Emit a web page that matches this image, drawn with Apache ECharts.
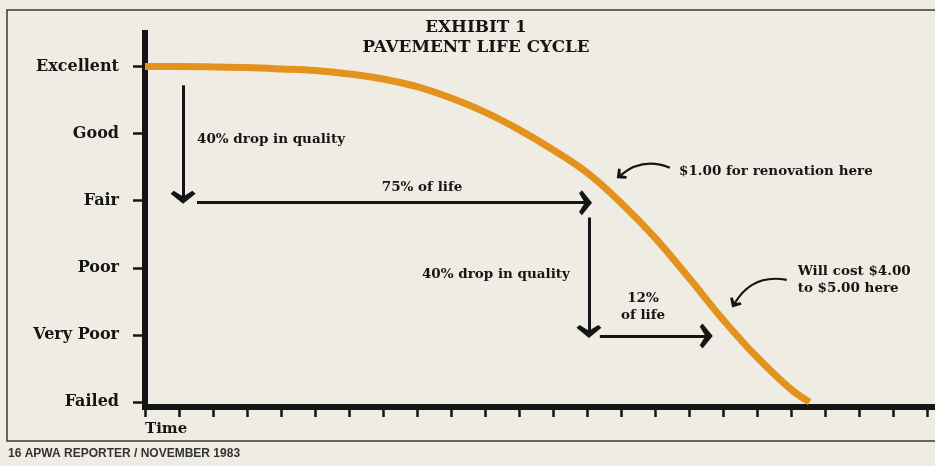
<!DOCTYPE html>
<html>
<head>
<meta charset="utf-8">
<script src="https://cdn.jsdelivr.net/npm/echarts@6/dist/echarts.min.js"></script>
<style>
html,body{margin:0;padding:0;background:#efece3;}
#chart{width:935px;height:466px;}
</style>
</head>
<body>
<div id="chart"></div>
<script>
// ---- data ----
const qualityLevels = ['Failed', 'Very Poor', 'Poor', 'Fair', 'Good', 'Excellent'];
const levelValues = [0, 1, 2, 3, 4, 5];
const timeTicks = [0,1,2,3,4,5,6,7,8,9,10,11,12,13,14,15,16,17,18,19,20,21,22,23];
const timeLabel = 'Time';

const curveTime    = [0, 1, 2, 3, 4, 5, 6, 7, 8, 9, 10, 11, 12, 13, 14, 15, 16, 17, 18, 19, 19.55];
const curveQuality = [5, 5, 4.995, 4.985, 4.965, 4.94, 4.89, 4.815, 4.70, 4.53, 4.32, 4.06, 3.76, 3.42, 2.97, 2.45, 1.85, 1.23, 0.67, 0.19, 0];

// straight annotation arrows (data coordinates)
const arrowFrom  = [[1.12, 4.72], [1.53, 2.97], [13.06, 2.75], [13.38, 0.985]];
const arrowTo    = [[1.12, 3.05], [12.96, 2.97], [13.06, 1.05], [16.51, 0.985]];
// curved pointer arrows (data coordinates)
const pointerFrom = [[15.44, 3.49], [18.88, 1.82]];
const pointerTo   = [[13.98, 3.376], [17.34, 1.466]];
const pointerBend = [-0.3, -0.35];

// annotation texts (data coordinates)
const noteTexts  = ['40% drop in quality', '75% of life', '$1.00 for renovation here', '40% drop in quality', '12%\nof life', 'Will cost $4.00\nto $5.00 here'];
const noteCoords = [[1.53, 3.91], [8.15, 3.19], [15.71, 3.43], [12.5, 1.90], [14.65, 1.42], [19.2, 1.82]];
const noteAlign  = ['left', 'center', 'left', 'right', 'center', 'left'];

const titleText = 'EXHIBIT 1\nPAVEMENT LIFE CYCLE';
const footerNum = '16';
const footerText = ' APWA REPORTER / NOVEMBER 1983';

// ---- chart ----
const SERIF = '"DejaVu Serif", serif';
const ORANGE = '#e3921e';
const INK = '#151515';
const chevron = 'path://M0,9 L10,0 L20,9 L17.5,11.5 L10,6.5 L2.5,11.5 Z';

const chart = echarts.init(document.getElementById('chart'), null, {renderer: 'canvas'});

const markLineData = arrowFrom.map((f, i) => [
  {coord: f, symbol: 'none'},
  {coord: arrowTo[i], symbol: chevron, symbolSize: [25, 13],
   lineStyle: {width: 3, color: INK, type: 'solid'}}
]);

const markPointData = noteTexts.map((t, i) => ({
  name: t, coord: noteCoords[i], symbol: 'circle', symbolSize: 0,
  label: {show: true, position: 'inside', formatter: '{b}', align: noteAlign[i], verticalAlign: 'middle',
          color: INK, fontFamily: SERIF, fontWeight: 'bold', fontSize: 13.5, lineHeight: 17}
}));

chart.setOption({
  backgroundColor: '#efece3',
  animation: false,
  title: [
    {text: titleText, left: 471, top: 13, textAlign: 'center',
     textStyle: {fontFamily: SERIF, fontWeight: 'bold', fontSize: 16.8, lineHeight: 20, color: INK}},
    {text: '{b|' + footerNum + '}{n|' + footerText + '}', left: 3, top: 443,
     textStyle: {rich: {
       b: {fontFamily: '"Liberation Sans", Arial, sans-serif', fontWeight: 'bold', fontSize: 12, color: '#333'},
       n: {fontFamily: '"Liberation Sans", Arial, sans-serif', fontSize: 12, color: '#333'}
     }}}
  ],
  graphic: [
    {type: 'rect', z: -1, shape: {x: 7, y: 10, width: 940, height: 431},
     style: {fill: 'none', stroke: '#3a3a3a', lineWidth: 1.5}}
  ],
  grid: {left: 145, right: 0, top: 33, bottom: 59, containLabel: false},
  xAxis: {
    type: 'value', min: 0, max: 23.24,
    axisLine: {onZero: false, lineStyle: {color: INK, width: 6}},
    axisTick: {show: true, length: 10, customValues: timeTicks, lineStyle: {color: INK, width: 2.5}},
    axisLabel: {show: true, customValues: [0], formatter: () => timeLabel, margin: 15, align: 'left',
                fontFamily: SERIF, fontWeight: 'bold', fontSize: 15, color: INK},
    splitLine: {show: false}
  },
  yAxis: {
    type: 'value', min: -0.075, max: 5.5,
    axisLine: {show: true, lineStyle: {color: INK, width: 6, cap: 'square'}},
    axisTick: {show: true, length: 12, customValues: levelValues, lineStyle: {color: INK, width: 2.5}},
    axisLabel: {show: true, customValues: levelValues, formatter: v => qualityLevels[Math.round(v)], margin: 26,
                fontFamily: SERIF, fontWeight: 'bold', fontSize: 16, color: INK},
    splitLine: {show: false}
  },
  series: [{
    type: 'line',
    data: curveTime.map((t, i) => [t, curveQuality[i]]),
    symbol: 'none',
    smooth: 0.4,
    lineStyle: {color: ORANGE, width: 7},
    silent: true,
    z: 3,
    markLine: {silent: true, symbol: ['none', chevron], label: {show: false}, data: markLineData,
               lineStyle: {color: INK, type: 'solid', width: 3}, animation: false},
    markPoint: {silent: true, data: markPointData, animation: false}
  }, {
    type: 'lines',
    coordinateSystem: 'cartesian2d',
    silent: true,
    z: 4,
    symbol: ['none', chevron],
    symbolSize: [1, [13, 9]],
    lineStyle: {color: INK, width: 2.2, opacity: 1},
    data: pointerFrom.map((f, i) => ({coords: [f, pointerTo[i]], lineStyle: {curveness: pointerBend[i]}}))
  }]
});
</script>
</body>
</html>
